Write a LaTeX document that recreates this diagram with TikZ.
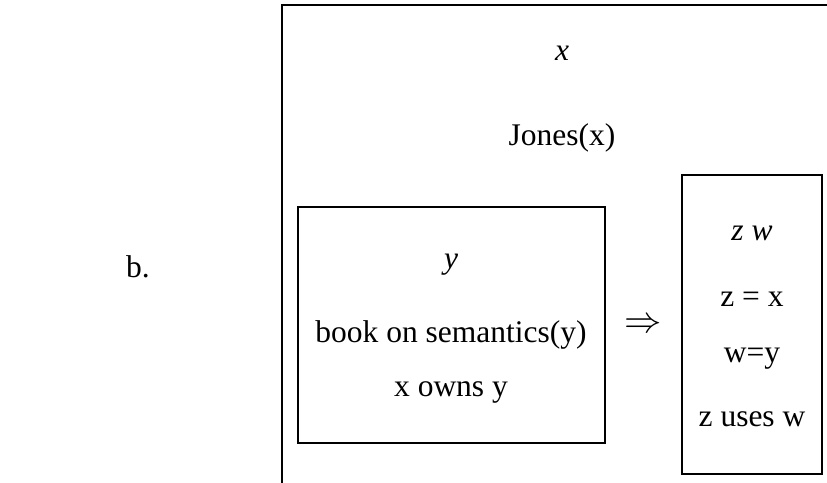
\documentclass[tikz,border=0pt]{standalone}
\usepackage{fontspec}
\setmainfont{Liberation Serif}
\usetikzlibrary{positioning}
\tikzset{
    drsbox/.style={draw, line width=2pt},
    cond/.style={inner sep=0pt, anchor=base, font=\fontsize{31.5}{36}\selectfont}
}

\begin{document}
\begin{tikzpicture}[x=1pt, y=-1pt]
    \useasboundingbox (0,0) rectangle (827,482);
    \clip (0,0) rectangle (827,482);

    % Boxes
    \draw[drsbox] (282,490) -- (282,5) -- (840,5);
    \draw[drsbox] (298,207) rectangle (605,443);
    \draw[drsbox] (682,175) rectangle (822,474);

    % Outer conditions
    \node[cond] (label) at (138,277) {b.};
    \node[cond] (refx) at (562,60) {\textit{x}};
    \node[cond] (jones) at (562,145) {Jones(x)};

    % Antecedent
    \node[cond] (refy) at (451,268) {\textit{y}};
    \node[cond] (book) at (451,342) {book on semantics(y)};
    \node[cond] (owns) at (451,396) {x owns y};

    % Implication
    \node[cond] (impl) at (643,332) {\scalebox{1.5}{$\Rightarrow$}};

    % Consequent
    \node[cond] (refzw) at (752,240) {\textit{z w}};
    \node[cond] (zx) at (752,306) {z = x};
    \node[cond] (wy) at (752,362) {w=y};
    \node[cond] (uses) at (752,426) {z uses w};
\end{tikzpicture}
\end{document}
